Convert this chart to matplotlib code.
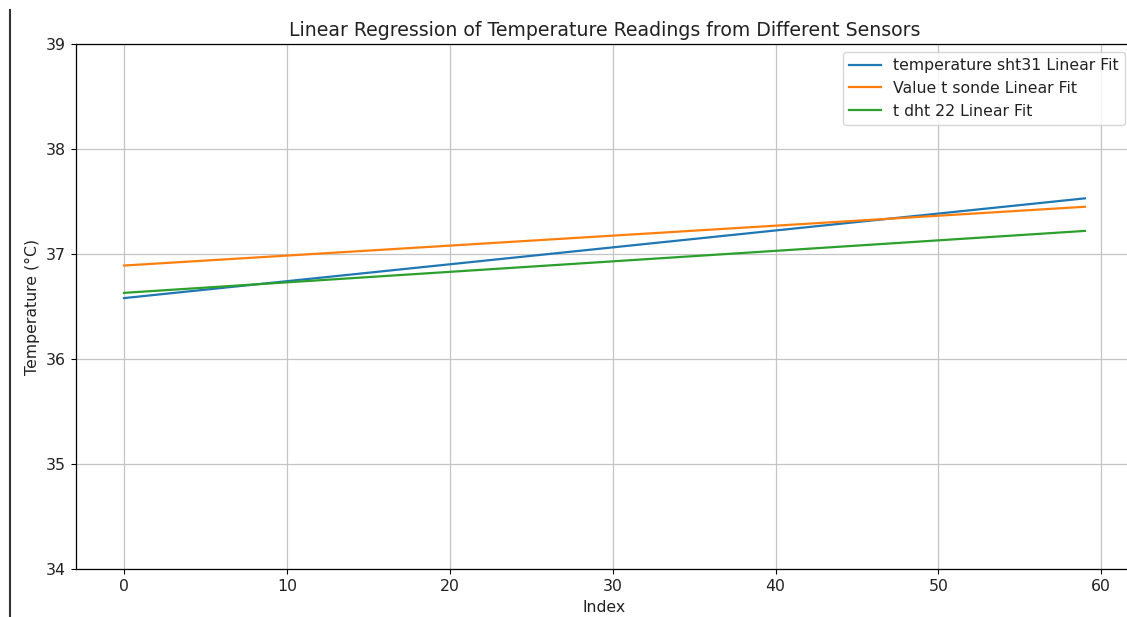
import matplotlib
import matplotlib.pyplot as plt
from matplotlib.lines import Line2D

matplotlib.use("Agg")

# fitted line endpoints (index 0 and index 59)
fit_index = [0, 59]
sht31_fit = [36.58, 37.53]
sonde_fit = [36.89, 37.45]
dht22_fit = [36.63, 37.22]

labels = [
    "temperature sht31 Linear Fit",
    "Value t sonde Linear Fit",
    "t dht 22 Linear Fit",
]
y_ticks = [34, 35, 36, 37, 38, 39]
x_ticks = [0, 10, 20, 30, 40, 50, 60]

# screenshot was taken at ~113% zoom, so scale text up
s = 1.13
plt.rcParams["font.size"] = 10 * s
plt.rcParams["xtick.major.size"] = 3.5 * s
plt.rcParams["ytick.major.size"] = 3.5 * s
plt.rcParams["axes.linewidth"] = 0.8 * s
plt.rcParams["text.color"] = "#222222"
plt.rcParams["axes.labelcolor"] = "#222222"
plt.rcParams["xtick.labelcolor"] = "#222222"
plt.rcParams["ytick.labelcolor"] = "#222222"

fig = plt.figure(figsize=(11.27, 6.17), dpi=100)
# axes run a little past the right edge, like the cropped original
ax = fig.add_axes([76 / 1127, 1 - 569 / 617, (1133 - 76) / 1127, (569 - 44) / 617])

for vals, lab in zip([sht31_fit, sonde_fit, dht22_fit], labels):
    ax.plot(fit_index, vals, label=lab, linewidth=1.6)

ax.set_ylim(34, 39)
ax.set_yticks(y_ticks)
ax.set_xticks(x_ticks)
ax.set_xlim(-2.95, 61.95)
ax.grid(True, color="#c4c4c4", linewidth=0.8 * s)
ax.spines["right"].set_visible(False)

ax.set_title("Linear Regression of Temperature Readings from Different Sensors", fontsize=12 * s)
ax.set_xlabel("Index")
ax.set_ylabel("Temperature (°C)")
ax.legend(loc="upper right")

# stray frame line on the left of the screenshot
fig.add_artist(Line2D([9.5 / 1127, 9.5 / 1127], [0, 1 - 10 / 617], color="#333333", linewidth=1.5))

fig.savefig("out.png", dpi=100)
